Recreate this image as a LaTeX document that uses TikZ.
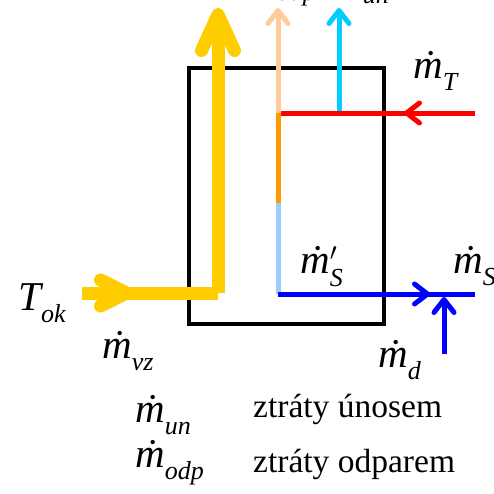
\documentclass[tikz,border=0pt]{standalone}
\usepackage{fontspec}
\setmainfont{Liberation Serif}
\usetikzlibrary{arrows.meta}

\definecolor{airyellow}{HTML}{FFCC00}
\definecolor{vapour}{HTML}{FFCC99}
\definecolor{evaporange}{HTML}{FF9900}
\definecolor{waterlight}{HTML}{99CCFF}
\definecolor{dropcyan}{HTML}{00CCFF}

\newcommand{\bigit}{\fontsize{41}{44}\selectfont\itshape}
\newcommand{\subit}{\fontsize{26}{28}\selectfont\itshape}
\newcommand{\mflow}[1]{{\bigit\.m}\raisebox{-12pt}{\subit #1}}
\newcommand{\mflowprime}[1]{{\bigit\.m}\rlap{\raisebox{13pt}{\subit$\prime$}}\raisebox{-13pt}{\subit #1}}

\tikzset{
    thinbarb/.tip={Straight Barb[length=13pt,width=20pt,round]},
    thickbarb/.tip={Straight Barb[length=36pt,width=33pt,round]},
    inletbarb/.tip={Straight Barb[length=26pt,width=26pt,round]},
    thinflow/.style={line width=5pt},
    thickflow/.style={line width=13pt, airyellow},
    lbl/.style={inner sep=0pt, anchor=base west},
    txt/.style={inner sep=0pt, anchor=base west, font=\fontsize{33.5}{36}\selectfont}
}

\begin{document}
\begin{tikzpicture}[x=1pt, y=-1pt]
    \useasboundingbox (0,0) rectangle (494,493);

    % Tower box
    \draw[line width=4pt] (189,68) rectangle (384,324);

    % Flow points
    \coordinate (airin) at (82,293);
    \coordinate (airhead) at (133,293);
    \coordinate (aircorner) at (218,293);
    \coordinate (airout) at (218,8);

    \coordinate (vap0) at (278,113);
    \coordinate (vap1) at (278,8);
    \coordinate (mix) at (278,203);
    \coordinate (pool) at (278,294);

    \coordinate (un0) at (339,113);
    \coordinate (un1) at (339,8);

    \coordinate (t0) at (475,113);
    \coordinate (thead) at (404,113);
    \coordinate (t1) at (281,113);

    \coordinate (shead) at (430,294);
    \coordinate (s1) at (475,294);
    \coordinate (d0) at (444,354);
    \coordinate (d1) at (444,297);

    % Air (yellow)
    \draw[thickflow] (airin) -- (aircorner);
    \draw[thickflow, -inletbarb] (airin) -- (airhead);
    \draw[thickflow, -thickbarb] (aircorner) -- (airout);

    % Evaporation and entrainment
    \draw[thinflow, vapour, -thinbarb] (vap0) -- (vap1);
    \draw[thinflow, evaporange] (vap0) -- (mix);
    \draw[thinflow, waterlight] (mix) -- (pool);
    \draw[thinflow, dropcyan, -thinbarb] (un0) -- (un1);

    % Warm water in (red)
    \draw[thinflow, red] (t0) -- (t1);
    \draw[thinflow, red, -thinbarb] (t0) -- (thead);

    % Cooled water out (blue)
    \draw[thinflow, blue] (pool) -- (s1);
    \draw[thinflow, blue, -thinbarb] (pool) -- (shead);
    \draw[thinflow, blue, -thinbarb] (d0) -- (d1);

    % Labels
    \node[lbl] (lairout) at (75,-14) {\mflow{vz}};
    \node[lbl] (lodptop) at (247,-12) {\mflow{odp}};
    \node[lbl] (luntop) at (333,-9) {\mflow{un}};
    \node[lbl] (lT) at (413,78) {\mflow{T}};
    \node[lbl] (lSp) at (300,273) {\mflowprime{S}};
    \node[lbl] (lS) at (453,273) {\mflow{S}};
    \node[lbl] (lTok) at (18,310) {{\bigit T}\raisebox{-12pt}{\subit ok}};
    \node[lbl] (lvz) at (102,358) {\mflow{vz}};
    \node[lbl] (ld) at (378,367) {\mflow{d}};
    \node[lbl] (lun) at (135,422) {\mflow{un}};
    \node[lbl] (lodp) at (135,467) {\mflow{odp}};
    \node[txt] (tun) at (253,417) {ztráty únosem};
    \node[txt] (todp) at (253,472) {ztráty odparem};
\end{tikzpicture}
\end{document}
